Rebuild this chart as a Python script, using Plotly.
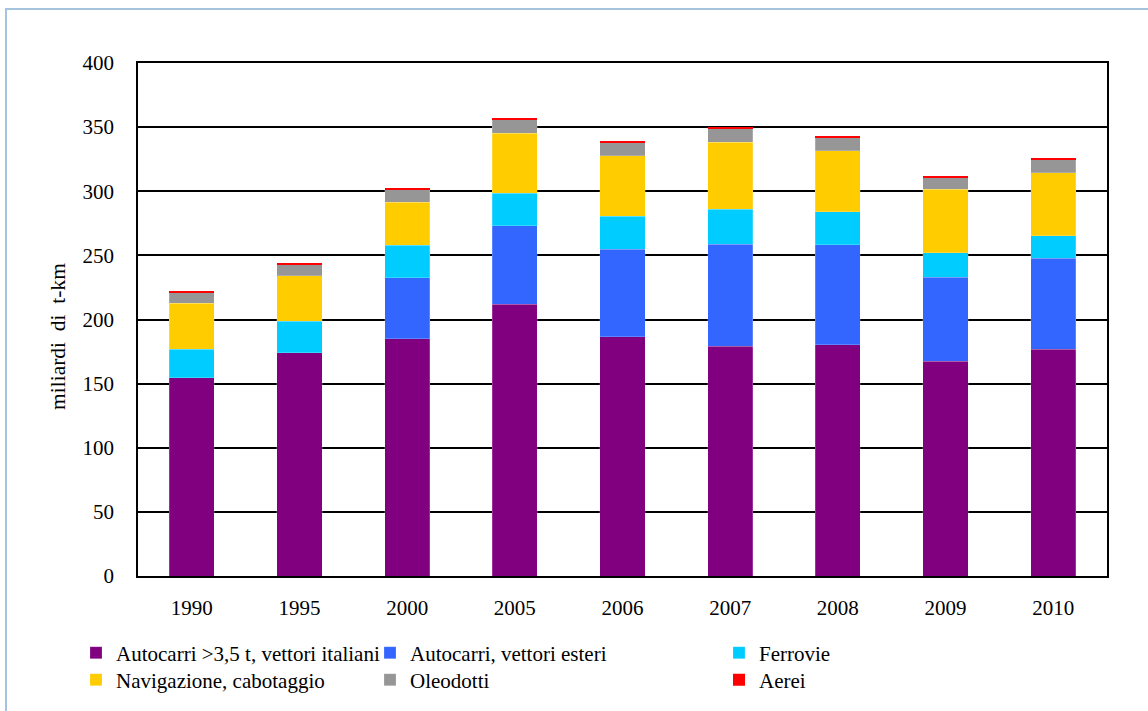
import plotly.graph_objects as go

# Traffico merci interno (miliardi di tonnellate-km)
years = ["1990", "1995", "2000", "2005", "2006", "2007", "2008", "2009", "2010"]

autocarri_italiani = [154.6, 174.1, 184.8, 211.8, 186.6, 179.1, 180.4, 167.4, 176.8]
autocarri_esteri = [0.0, 0.0, 47.8, 61.4, 68.1, 79.5, 77.7, 65.5, 70.8]
ferrovie = [22.1, 24.5, 25.2, 25.2, 26.0, 27.3, 26.0, 19.2, 17.8]
navigazione = [35.9, 35.6, 33.8, 46.8, 46.8, 52.2, 47.3, 49.4, 49.1]
oleodotti = [8.4, 8.8, 9.9, 10.6, 10.6, 10.9, 10.6, 9.6, 9.9]
aerei = [1.2, 1.1, 1.0, 1.3, 1.3, 1.4, 1.1, 1.0, 1.0]

y_ticks = [0, 50, 100, 150, 200, 250, 300, 350, 400]

FONT = "Times New Roman, Liberation Serif, serif"

W, H = 1148, 711
ML, MR, MT, MB = 138, 41, 63, 135
pw, ph = W - ML - MR, H - MT - MB


def px_x(x):
    return (x - ML) / pw


def px_y(y):
    return (H - MB - y) / ph


# one legend box per entry, laid out as a 3x2 grid below the plot
# (name, values, colour, legend id, text-start x px, row centre y px, edge width)
series = [
    ("Autocarri >3,5 t, vettori italiani", autocarri_italiani, "#800080", "legend", 116, 653, 0.4),
    ("Autocarri, vettori esteri", autocarri_esteri, "#3366FF", "legend2", 410, 653, 0.4),
    ("Ferrovie", ferrovie, "#00CCFF", "legend3", 759, 653, 0.4),
    ("Navigazione, cabotaggio", navigazione, "#FFCC00", "legend4", 116, 680, 0.4),
    ("Oleodotti", oleodotti, "#969696", "legend5", 410, 680, 0.4),
    ("Aerei", aerei, "#FF0000", "legend6", 759, 680, 0),
]

fig = go.Figure()
legends = {}
for name, vals, color, leg, tx, ty, lw in series:
    fig.add_trace(go.Bar(
        x=years, y=vals, name=name, legend=leg, showlegend=True,
        marker=dict(color=color, line=dict(color="rgba(255,255,255,0.5)", width=lw)),
    ))
    legends[leg] = dict(
        x=px_x(tx - 40), y=px_y(ty), xanchor="left", yanchor="middle",
        orientation="v", font=dict(family=FONT, size=21, color="black"),
        bgcolor="rgba(0,0,0,0)", itemwidth=30, visible=True,
    )

fig.update_layout(
    width=W, height=H,
    showlegend=True,
    margin=dict(l=ML, r=MR, t=MT, b=MB, autoexpand=False),
    paper_bgcolor="white", plot_bgcolor="white",
    barmode="stack", bargap=0.58,
    font=dict(family=FONT, size=21, color="black"),
    **legends,
    xaxis=dict(
        showline=True, linecolor="black", linewidth=1.5, mirror=True,
        ticks="", ticklabelstandoff=12,
        tickfont=dict(family=FONT, size=21, color="black"),
    ),
    yaxis=dict(
        range=[0, 400], tickvals=y_ticks,
        showline=True, linecolor="black", linewidth=1.5, mirror=True,
        showgrid=True, gridcolor="black", gridwidth=1.5,
        ticks="", ticklabelstandoff=18, zeroline=False,
        tickfont=dict(family=FONT, size=21, color="black"),
    ),
    annotations=[dict(
        text="miliardi  di  t-km", textangle=-90,
        xref="paper", yref="paper", x=px_x(58), y=px_y(337),
        xanchor="center", yanchor="middle", showarrow=False,
        font=dict(family=FONT, size=21.5, color="black"),
    )],
    shapes=[dict(
        type="rect", xref="paper", yref="paper",
        x0=px_x(6), y0=px_y(H + 40), x1=px_x(W + 40), y1=px_y(9),
        line=dict(color="#A5C3DC", width=2), fillcolor="rgba(0,0,0,0)", layer="below",
    )],
)

fig.write_html("out.html")
